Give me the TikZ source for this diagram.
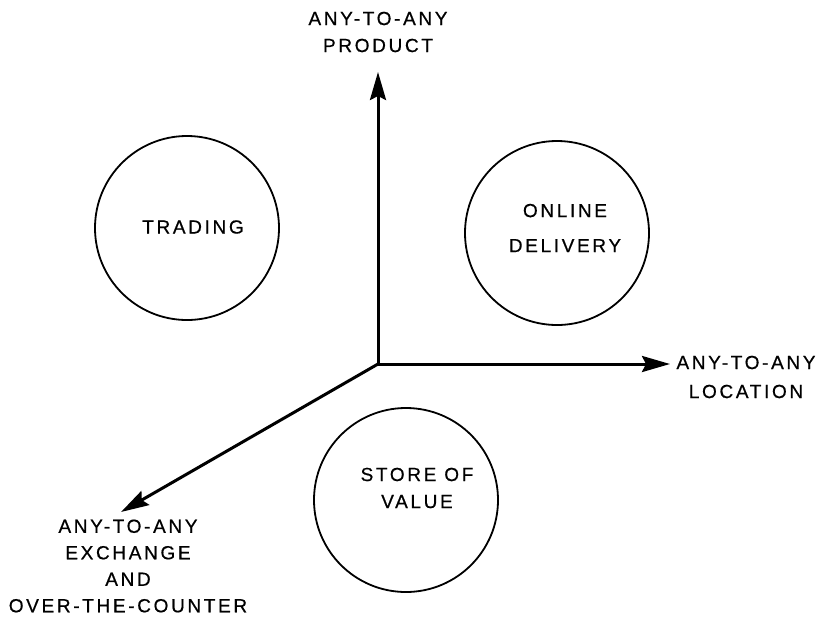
\documentclass[tikz,border=0pt]{standalone}
\usepackage{fontspec}
\setmainfont{Liberation Sans}[LetterSpace=14,FakeBold=0.6]
\usetikzlibrary{arrows.meta}
\newcommand{\plotterfont}{\fontsize{19}{27}\selectfont}
\begin{document}
\begin{tikzpicture}[x=1pt,y=-1pt,
  axis/.style={line width=3pt, -{Stealth[length=28pt,width=16pt,inset=4pt]}},
  ring/.style={circle, draw, line width=1.8pt, minimum size=184pt, inner sep=0pt},
  lbl/.style={align=center, font=\plotterfont, inner sep=0pt}]
\useasboundingbox (0,0) rectangle (822,622);

% axes
\coordinate (O) at (378,364);
\coordinate (P) at (378,72);
\coordinate (L) at (670,364);
\coordinate (X) at (121,512);
\draw[axis] (O) -- (P);
\draw[axis] (O) -- (L);
\draw[axis] (O) -- (X);

% axis labels
\node[lbl] (plbl) at (378,32) {ANY-TO-ANY\\PRODUCT};
\node[lbl, font=\fontsize{19}{29}\selectfont] (llbl) at (746,377) {ANY-TO-ANY\\LOCATION};
\node[lbl, font=\fontsize{19}{26.5}\selectfont] (xlbl) at (128,566) {ANY-TO-ANY\\EXCHANGE\\AND\\OVER-THE-COUNTER};

% circles
\node[ring] (trading) at (187,228) {};
\node[ring] (online) at (557,233) {};
\node[ring] (store) at (406,500) {};

\node[lbl] (tradingtxt) at (193,227) {TRADING};
\node[lbl, font=\fontsize{19}{35}\selectfont] (onlinetxt) at (565,228) {ONLINE\\DELIVERY};
\node[lbl] (storetxt) at (417,488) {STORE OF\\VALUE};
\end{tikzpicture}
\end{document}
